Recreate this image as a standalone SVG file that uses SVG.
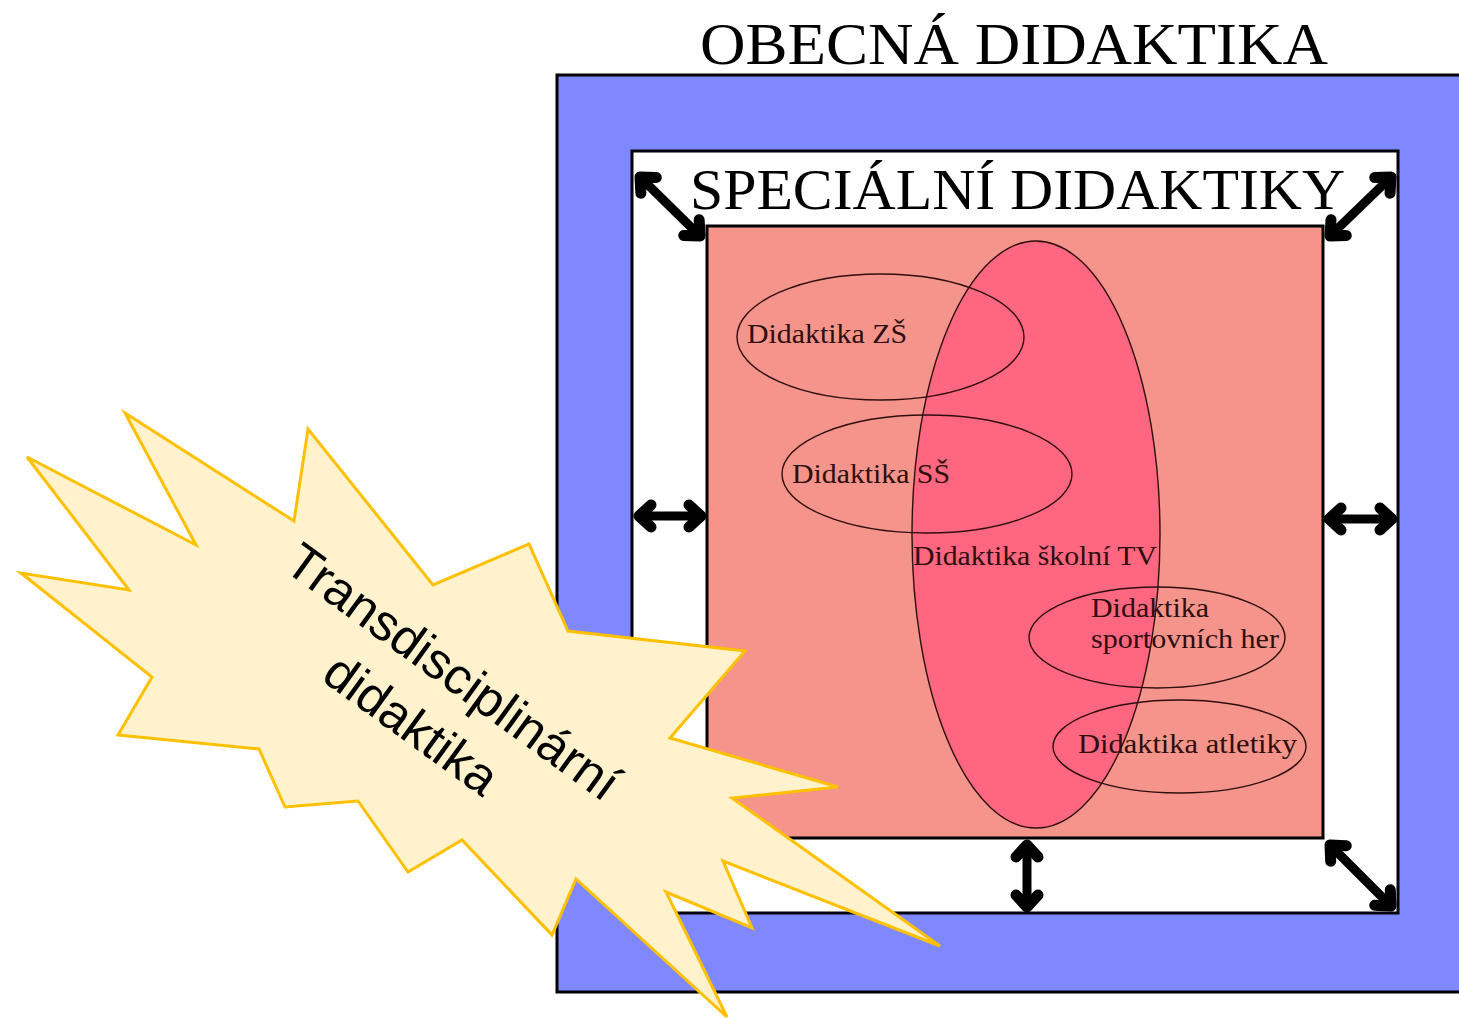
<svg xmlns="http://www.w3.org/2000/svg" width="1459" height="1019" viewBox="0 0 1459 1019">
<style>
.frame{stroke:#000;stroke-width:3}
.title{font-family:"Liberation Serif","DejaVu Serif",serif;fill:#000}
.lbl{font-family:"Liberation Serif","DejaVu Serif",serif;font-size:28px;fill:#2e0e0e}
.sub{fill:none;stroke:#2e0e0e;stroke-width:1.4}
.arr{stroke:#000;stroke-width:9;fill:none;marker-start:url(#ah);marker-end:url(#ah)}
.burst{fill:#FFF2CC;stroke:#FFC000;stroke-width:3;stroke-linejoin:miter}
.bt{font-family:"Liberation Sans",Arial,sans-serif;font-size:51px;fill:#000;text-anchor:middle}
</style>
<defs>
<marker id="ah" markerUnits="userSpaceOnUse" orient="auto-start-reverse" refX="0" refY="0" markerWidth="40" markerHeight="40" overflow="visible">
<path d="M-12,-11 L0,0 L-12,11" fill="none" stroke="#000" stroke-width="11" stroke-linecap="round" stroke-linejoin="round"/>
</marker>
</defs>
<rect width="1459" height="1019" fill="#fff"/>
<g id="obecna">
<rect class="frame" x="557" y="75" width="910" height="917" fill="#8088FF"/>
<text class="title" x="700" y="64" font-size="60" textLength="628" lengthAdjust="spacingAndGlyphs">OBECNÁ DIDAKTIKA</text>
</g>
<g id="specialni">
<rect class="frame" x="632" y="151" width="766" height="762" fill="#fff"/>
<text class="title" x="690" y="209" font-size="57" textLength="655" lengthAdjust="spacingAndGlyphs">SPECIÁLNÍ DIDAKTIKY</text>
</g>
<g id="jadro">
<rect class="frame" x="707" y="226" width="616" height="612" fill="#F4948A"/>
</g>
<g id="skolni-tv">
<ellipse cx="1036" cy="534.5" rx="124" ry="293.5" fill="#FF6680" stroke="#2e0e0e" stroke-width="1.4"/>
<text class="lbl" x="913" y="565" textLength="244" lengthAdjust="spacingAndGlyphs">Didaktika školní TV</text>
</g>
<g id="zs">
<ellipse class="sub" cx="880.5" cy="337" rx="143.5" ry="63"/>
<text class="lbl" x="747" y="343" textLength="160" lengthAdjust="spacingAndGlyphs">Didaktika ZŠ</text>
</g>
<g id="ss">
<ellipse class="sub" cx="927" cy="474" rx="145" ry="59"/>
<text class="lbl" x="792" y="483" textLength="158" lengthAdjust="spacingAndGlyphs">Didaktika SŠ</text>
</g>
<g id="sport">
<ellipse class="sub" cx="1157" cy="637.5" rx="128" ry="50.5"/>
<text class="lbl" x="1091" y="617" textLength="118" lengthAdjust="spacingAndGlyphs">Didaktika</text>
<text class="lbl" x="1091" y="648" textLength="188" lengthAdjust="spacingAndGlyphs">sportovních her</text>
</g>
<g id="atletika">
<ellipse class="sub" cx="1179.5" cy="746.5" rx="126.5" ry="46.5"/>
<text class="lbl" x="1078" y="753" textLength="219" lengthAdjust="spacingAndGlyphs">Didaktika atletiky</text>
</g>
<g id="connectors">
<line class="arr" x1="640" y1="177" x2="700" y2="236"/>
<line class="arr" x1="1391" y1="177" x2="1330" y2="236"/>
<line class="arr" x1="639" y1="516" x2="701" y2="516"/>
<line class="arr" x1="1329" y1="519" x2="1392" y2="519"/>
<line class="arr" x1="1027" y1="845" x2="1027" y2="907"/>
<line class="arr" x1="1330" y1="845" x2="1391" y2="906"/>
</g>
<g id="transdisciplinarni">
<polygon class="burst" points="125,413 294,521 308,429 433,585 529,544 568,631 745,651 670,738 838,787 732,798 940,946 723,861 752,928 666,892 727,1017 576,879 552,935 462,840 408,872 358,801 285,807 259,749 118,735 152,677 21,573 129,590 27,457 196,545"/>
<g transform="translate(443,686) rotate(36)">
<text class="bt" x="0" y="0">Transdisciplinární</text>
<text class="bt" x="-3" y="67">didaktika</text>
</g>
</g>
</svg>
